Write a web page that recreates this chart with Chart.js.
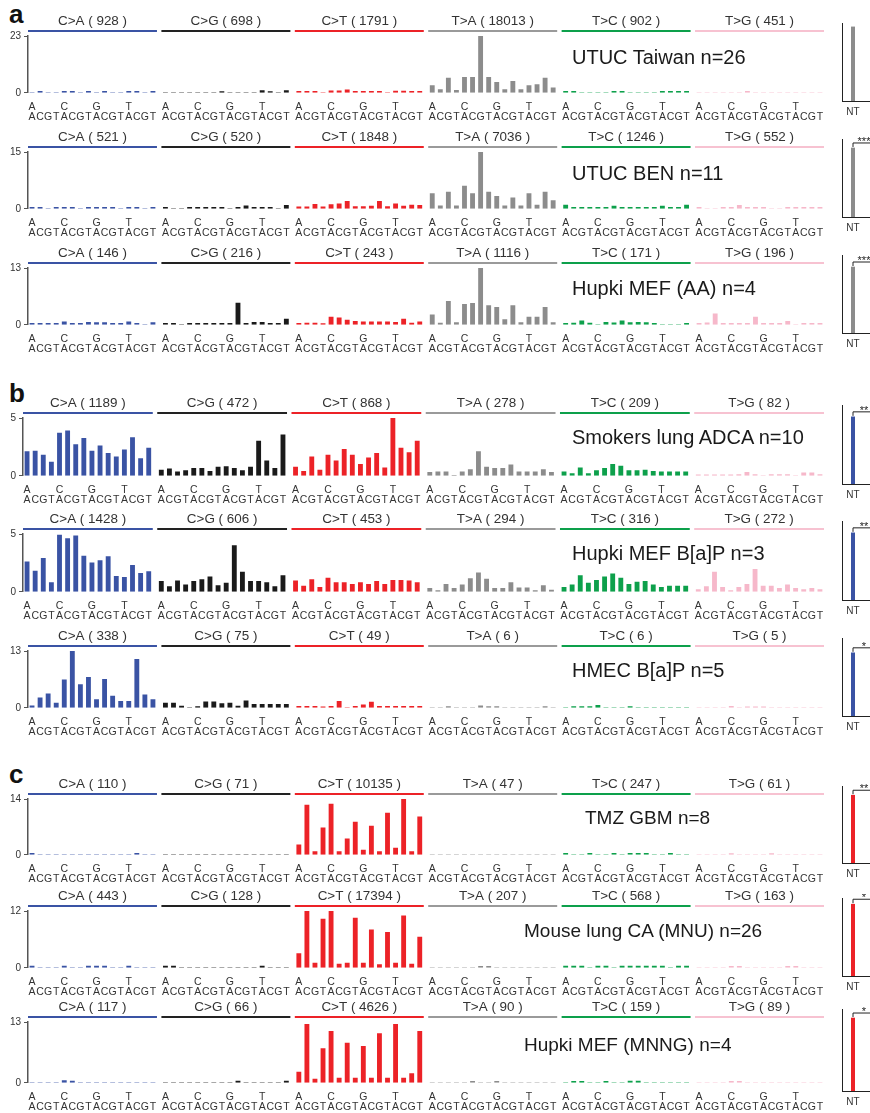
<!DOCTYPE html>
<html lang="en">
<head>
<meta charset="UTF-8">
<title>Trinucleotide mutation spectra</title>
<script src="https://cdn.jsdelivr.net/npm/chart.js"></script>
<style>
  html, body { margin: 0; padding: 0; width: 870px; height: 1113px; overflow: hidden; background: #fff; }
  body { position: relative; font-family: "Liberation Sans", Arial, sans-serif; }
  canvas { position: absolute; }
  .tag { position: absolute; left: 9px; font-weight: bold; font-size: 26px; line-height: 1; color: #111; }
  .name { position: absolute; line-height: 1; color: #1a1a1a; white-space: nowrap; }
</style>
</head>
<body>
<div class="tag" style="top:1px">a</div>
<div class="tag" style="top:380px">b</div>
<div class="tag" style="top:761px">c</div>
<script>
const FONT = '"Liberation Sans", Arial, sans-serif';

// mutation classes and trinucleotide context
const groupNames = ['C>A', 'C>G', 'C>T', 'T>A', 'T>C', 'T>G'];
const fivePrime = ['A', 'C', 'G', 'T'];
const threePrime = ['A', 'C', 'G', 'T'];

// panel titles, counts per class, y axis max
const panelTitles = [
  'UTUC Taiwan n=26', 'UTUC BEN n=11', 'Hupki MEF (AA) n=4',
  'Smokers lung ADCA n=10', 'Hupki MEF B[a]P n=3', 'HMEC B[a]P n=5',
  'TMZ GBM n=8', 'Mouse lung CA (MNU) n=26', 'Hupki MEF (MNNG) n=4'
];
const panelCounts = [
  [928, 698, 1791, 18013, 902, 451],
  [521, 520, 1848, 7036, 1246, 552],
  [146, 216, 243, 1116, 171, 196],
  [1189, 472, 868, 278, 209, 82],
  [1428, 606, 453, 294, 316, 272],
  [338, 75, 49, 6, 6, 5],
  [110, 71, 10135, 47, 247, 61],
  [443, 128, 17394, 207, 568, 163],
  [117, 66, 4626, 90, 159, 89]
];
const panelYMax = [23, 15, 13, 5, 5, 13, 14, 12, 13];

// small side panel: NT share and significance stars
const sideLabels = ['NT', 'T'];
const ntShare = [0.95, 0.885, 0.846, 0.85, 0.85, 0.81, 0.88, 0.92, 0.89];
const tShare = [0.3, 0.3, 0.3, 0.3, 0.3, 0.3, 0.3, 0.3, 0.3];
const ntStars = ['', '***', '***', '**', '**', '*', '**', '*', '*'];

// 96 values per panel (C>A, C>G, C>T, T>A, T>C, T>G; 16 contexts each)
const utucTaiwan = [
  0, 0.6, 0, 0, 0.6, 0.6, 0, 0.6, 0, 0.6, 0, 0, 0.6, 0.6, 0, 0.6,
  0, 0, 0, 0, 0, 0, 0, 0.5, 0, 0, 0, 0, 0.9, 0.5, 0, 0.9,
  0.6, 0.6, 0.6, 0, 0.8, 0.8, 1.2, 0.6, 0.6, 0.6, 0.6, 0, 0.7, 0.7, 0.6, 0.6,
  2.9, 1.3, 6, 1, 6.3, 6.3, 23, 6.3, 4.3, 1.3, 4.7, 1.3, 2.9, 3.3, 6, 2,
  0.6, 0.6, 0, 0, 0, 0, 0.6, 0.6, 0, 0, 0, 0, 0.6, 0.6, 0.6, 0.6,
  0, 0, 0, 0, 0, 0, 0.6, 0, 0, 0, 0, 0, 0, 0, 0, 0
];
const utucBen = [
  0.4, 0.4, 0, 0.4, 0.4, 0.4, 0, 0.4, 0.4, 0.4, 0.4, 0, 0.4, 0.4, 0, 0.4,
  0.4, 0, 0, 0.4, 0.4, 0.4, 0.4, 0.4, 0, 0.4, 0.8, 0.4, 0.4, 0.4, 0, 0.9,
  0.5, 0.5, 1.2, 0.5, 1.1, 1.3, 2.0, 0.6, 0.6, 0.7, 2.0, 0.6, 1.3, 0.7, 1.0, 0.9,
  4, 0.8, 4.4, 0.8, 6, 4, 15.4, 4.4, 3.3, 0.8, 2.9, 0.8, 4, 1, 4.4, 2.2,
  1.0, 0.4, 0.4, 0.4, 0.4, 0.4, 0.7, 0.4, 0.4, 0.4, 0.4, 0.4, 0.7, 0.4, 0.4, 1.0,
  0.4, 0, 0, 0.4, 0.4, 0.9, 0.4, 0.4, 0.4, 0, 0, 0.4, 0.4, 0.4, 0.4, 0.4
];
const hupkiAA = [
  0.35, 0.35, 0.35, 0.35, 0.7, 0.35, 0.35, 0.6, 0.5, 0.5, 0.35, 0.35, 0.7, 0.35, 0, 0.5,
  0.35, 0.35, 0, 0.35, 0.35, 0.35, 0.35, 0.35, 0.35, 5.0, 0.35, 0.6, 0.6, 0.35, 0.35, 1.3,
  0.35, 0.4, 0.4, 0.3, 1.8, 1.6, 1.1, 0.8, 0.7, 0.7, 0.7, 0.7, 0.6, 1.3, 0.4, 0.7,
  2.3, 0.4, 5.4, 0.5, 4.7, 4.9, 13, 4.4, 4, 1.2, 4.4, 0.5, 1.8, 1.8, 4, 0.5,
  0.35, 0.4, 0.9, 0.4, 0, 0.6, 0.45, 0.9, 0.5, 0.6, 0.5, 0.35, 0, 0, 0, 0.35,
  0.35, 0.45, 2.5, 0.35, 0.35, 0.35, 0.35, 1.8, 0.35, 0.35, 0.35, 0.8, 0, 0.35, 0.35, 0.35
];
const smokersLung = [
  2.1, 2.15, 1.8, 1.2, 3.7, 3.9, 2.7, 3.25, 2.15, 2.6, 1.95, 1.65, 2.25, 3.3, 1.5, 2.4,
  0.5, 0.6, 0.35, 0.45, 0.65, 0.65, 0.4, 0.75, 0.8, 0.65, 0.45, 0.75, 3.0, 1.3, 0.65, 3.55,
  0.75, 0.4, 1.65, 0.5, 1.8, 1.3, 2.3, 1.8, 1.0, 1.55, 1.95, 0.7, 5.0, 2.4, 2.0, 3.0,
  0.3, 0.35, 0.35, 0.05, 0.35, 0.55, 2.1, 0.75, 0.65, 0.65, 0.95, 0.35, 0.35, 0.35, 0.55, 0.3,
  0.35, 0.2, 0.7, 0.2, 0.45, 0.65, 1.0, 0.85, 0.45, 0.45, 0.5, 0.4, 0.35, 0.35, 0.35, 0.35,
  0.08, 0.08, 0.08, 0.08, 0.08, 0.1, 0.3, 0.1, 0, 0.1, 0.1, 0.1, 0, 0.25, 0.25, 0.1
];
const hupkiBaP = [
  2.6, 1.8, 2.9, 0.8, 4.9, 4.6, 4.85, 3.1, 2.5, 2.7, 3.05, 1.35, 1.25, 2.3, 1.6, 1.75,
  0.9, 0.45, 0.95, 0.6, 0.9, 1.05, 1.3, 0.55, 0.75, 4.0, 1.7, 0.9, 0.9, 0.8, 0.45, 1.4,
  0.95, 0.5, 1.05, 0.4, 1.2, 0.8, 0.8, 0.65, 0.8, 0.65, 0.9, 0.65, 1.0, 1.0, 0.95, 0.8,
  0.3, 0.1, 0.65, 0.3, 0.6, 1.15, 1.65, 1.1, 0.3, 0.3, 0.8, 0.35, 0.35, 0.1, 0.55, 0.15,
  0.4, 0.6, 1.4, 0.75, 1.0, 1.3, 1.55, 1.2, 0.65, 0.85, 0.9, 0.6, 0.4, 0.5, 0.5, 0.5,
  0.2, 0.45, 1.7, 0.4, 0.1, 0.4, 0.65, 1.95, 0.5, 0.5, 0.3, 0.6, 0.3, 0.2, 0.3, 0.2
];
const hmecBaP = [
  0.45, 2.3, 3.2, 1.1, 6.4, 12.9, 5.3, 7, 1.9, 6.5, 2.7, 1.5, 1.5, 11.1, 3.0, 1.9,
  1.1, 1.1, 0.4, 0, 0.3, 1.35, 1.35, 1.0, 1.1, 0.4, 1.6, 0.8, 0.8, 0.8, 0.8, 0.8,
  0.35, 0.35, 0.35, 0.25, 0.35, 1.5, 0, 0.35, 0.7, 1.3, 0.35, 0.35, 0.35, 0.35, 0.35, 0.35,
  0, 0, 0.3, 0, 0, 0, 0.45, 0.3, 0.3, 0, 0, 0, 0, 0, 0.3, 0,
  0, 0.3, 0.3, 0.3, 0.55, 0, 0, 0, 0.3, 0, 0, 0, 0, 0, 0, 0,
  0, 0, 0, 0, 0.35, 0, 0.25, 0.25, 0.25, 0, 0, 0, 0, 0, 0, 0
];
const tmzGbm = [
  0.4, 0, 0, 0, 0, 0, 0, 0, 0, 0, 0, 0, 0, 0.4, 0, 0,
  0, 0, 0, 0, 0, 0, 0, 0, 0, 0, 0, 0, 0, 0, 0, 0,
  2.5, 12.5, 0.8, 6.8, 12.7, 0.8, 4, 8.2, 1.2, 7.2, 0.8, 10.5, 1.7, 14.5, 0.8, 9.5,
  0, 0, 0, 0, 0, 0, 0, 0, 0, 0, 0, 0, 0, 0, 0, 0,
  0.4, 0, 0, 0.4, 0, 0, 0.4, 0, 0.4, 0.4, 0.4, 0, 0, 0.4, 0, 0,
  0, 0, 0, 0, 0.3, 0, 0, 0, 0, 0.3, 0, 0, 0, 0, 0, 0
];
const mouseLungMnu = [
  0.35, 0, 0, 0, 0.35, 0, 0, 0.35, 0.35, 0.35, 0, 0, 0.35, 0, 0, 0,
  0.35, 0.35, 0, 0, 0, 0, 0, 0, 0, 0, 0, 0, 0.35, 0, 0, 0,
  3, 12, 1, 10.3, 12, 0.8, 1, 10.5, 1, 8, 0.7, 7.5, 1, 11, 0.8, 6.5,
  0, 0, 0, 0, 0, 0, 0.3, 0.3, 0, 0, 0, 0, 0, 0, 0, 0,
  0.35, 0.35, 0.35, 0, 0.35, 0.35, 0, 0.35, 0.35, 0.35, 0.35, 0.35, 0.35, 0, 0.35, 0.35,
  0, 0, 0, 0, 0.3, 0.3, 0, 0, 0, 0, 0, 0.3, 0.3, 0, 0, 0
];
const hupkiMnng = [
  0, 0, 0, 0, 0.5, 0.35, 0, 0, 0, 0, 0, 0, 0, 0, 0, 0,
  0, 0, 0, 0, 0, 0, 0, 0, 0, 0.35, 0, 0, 0, 0, 0, 0.35,
  2.3, 12.5, 0.8, 7.3, 11, 1, 8.5, 1, 7.8, 1, 10.5, 1, 12.5, 1, 2, 11,
  0, 0, 0, 0, 0, 0.3, 0, 0, 0.3, 0, 0, 0, 0, 0, 0, 0,
  0, 0.3, 0.3, 0, 0, 0.3, 0, 0, 0.35, 0.35, 0, 0, 0, 0, 0, 0,
  0, 0, 0, 0, 0.3, 0.3, 0, 0, 0, 0, 0, 0, 0, 0, 0, 0
];
const panelValues = [utucTaiwan, utucBen, hupkiAA, smokersLung, hupkiBaP, hmecBaP, tmzGbm, mouseLungMnu, hupkiMnng];

// styling / layout
const barColors = ['#3a53a4', '#1a1a1a', '#ec2227', '#8c8c8c', '#0da04b', '#f6b8ca'];
const lineColors = ['#3a53a4', '#222222', '#ec2227', '#9a9a9a', '#0da04b', '#f7c2d1'];
const sideColors = ['#8c8c8c', '#8c8c8c', '#8c8c8c', '#3a53a4', '#3a53a4', '#3a53a4', '#ec2227', '#ec2227', '#ec2227'];
const lineY = [31, 147, 263, 413, 529, 646, 794, 906, 1017];
const plotH = [57, 57, 57, 58, 58, 57, 56, 57, 61];
const plotLeft = [28, 28, 28, 23, 23, 28, 28, 28, 28];
const titleX = [572, 572, 572, 572, 572, 572, 585, 524, 524];
const titleY = [57, 173, 288, 437, 553, 670, 817, 930, 1044];
const titleSize = [20, 20, 20, 20, 20, 20, 19, 19, 19];

const GAP = 0.55;
const XMAX = 6 * 16 + 5 * GAP;
const xOf = (g, i) => g * (16 + GAP) + i + 0.5;
const tickValues = [];
for (let g = 0; g < 6; g++) for (let i = 0; i < 16; i++) tickValues.push(xOf(g, i));

Chart.defaults.font.family = FONT;

function headerPlugin(p) {
  return {
    id: 'headers' + p,
    afterDraw(chart) {
      const ctx = chart.ctx, xs = chart.scales.x, top = chart.chartArea.top;
      ctx.save();
      groupNames.forEach((g, gi) => {
        const x0 = xs.getPixelForValue(gi * (16 + GAP));
        const x1 = xs.getPixelForValue(gi * (16 + GAP) + 16);
        ctx.strokeStyle = lineColors[gi];
        ctx.lineWidth = 2;
        ctx.beginPath();
        ctx.moveTo(x0, top - 5);
        ctx.lineTo(x1, top - 5);
        ctx.stroke();
        // header text is a little wide in the original
        ctx.save();
        ctx.translate((x0 + x1) / 2, top - 14);
        ctx.scale(1.12, 1);
        ctx.fillStyle = '#333';
        ctx.font = '12px ' + FONT;
        ctx.textAlign = 'center';
        ctx.textBaseline = 'middle';
        ctx.fillText(g + ' ( ' + panelCounts[p][gi] + ' )', 0, 0);
        ctx.restore();
      });
      ctx.restore();
    }
  };
}

function mainChart(p) {
  const canvas = document.createElement('canvas');
  canvas.width = 835;
  canvas.height = 25 + plotH[p] + 38;
  canvas.style.left = '0px';
  canvas.style.top = (lineY[p] - 20) + 'px';
  document.body.appendChild(canvas);
  const vals = panelValues[p];
  const ymax = panelYMax[p];
  const datasets = groupNames.map((g, gi) => ({
    label: g,
    data: vals.slice(gi * 16, gi * 16 + 16).map((v, i) => ({ x: xOf(gi, i), y: v })),
    backgroundColor: barColors[gi],
    borderWidth: 0,
    barThickness: 4.2,
    grouped: false
  }));
  new Chart(canvas, {
    type: 'bar',
    data: { datasets },
    options: {
      responsive: false,
      animation: false,
      events: [],
      layout: { padding: { top: 25, right: 11, left: 0, bottom: 0 } },
      plugins: { legend: { display: false }, tooltip: { enabled: false } },
      scales: {
        x: {
          type: 'linear', min: 0, max: XMAX, offset: false,
          grid: { display: false, drawTicks: false },
          border: { display: false },
          afterBuildTicks: s => { s.ticks = tickValues.map(v => ({ value: v })); },
          ticks: {
            autoSkip: false, maxRotation: 0, minRotation: 0, padding: 9, color: '#333',
            font: { size: 10.5, lineHeight: 0.96 },
            callback: (v, i) => [i % 4 === 0 ? fivePrime[Math.floor((i % 16) / 4)] : '', threePrime[i % 4]]
          }
        },
        y: {
          min: 0, max: ymax,
          afterBuildTicks: s => { s.ticks = [{ value: 0 }, { value: ymax }]; },
          afterFit: s => { s.width = plotLeft[p]; },
          grid: { display: true, drawOnChartArea: false, drawTicks: true, tickLength: 4, color: '#555' },
          border: { display: true, color: '#555', width: 1.5 },
          ticks: { padding: 3, color: '#333', font: { size: 10 } }
        }
      }
    },
    plugins: [headerPlugin(p)]
  });

  const t = document.createElement('div');
  t.className = 'name';
  t.textContent = panelTitles[p];
  t.style.left = titleX[p] + 'px';
  t.style.fontSize = titleSize[p] + 'px';
  t.style.top = (titleY[p] - titleSize[p] / 2) + 'px';
  document.body.appendChild(t);
}

function sideChart(p) {
  const canvas = document.createElement('canvas');
  canvas.width = 56;
  canvas.height = 4 + plotH[p] + 21 + 22;
  canvas.style.left = '830px';
  canvas.style.top = (lineY[p] - 12) + 'px';
  document.body.appendChild(canvas);
  const stars = ntStars[p];
  new Chart(canvas, {
    type: 'bar',
    data: {
      labels: sideLabels,
      datasets: [{ data: [ntShare[p], tShare[p]], backgroundColor: sideColors[p], barThickness: 3.3, borderWidth: 0 }]
    },
    options: {
      responsive: false,
      animation: false,
      events: [],
      layout: { padding: { top: 4, left: 12, right: 0, bottom: 0 } },
      plugins: { legend: { display: false }, tooltip: { enabled: false } },
      scales: {
        x: {
          grid: { display: false, drawTicks: false },
          border: { display: true, color: '#222', width: 1 },
          ticks: { padding: 5, color: '#333', font: { size: 10 }, maxRotation: 0, autoSkip: false }
        },
        y: {
          min: 0, max: 1,
          afterFit: s => { s.width = 0; },
          grid: { display: false, drawTicks: false },
          border: { display: true, color: '#222', width: 1 },
          ticks: { display: false }
        }
      }
    },
    plugins: [{
      id: 'stars' + p,
      afterDraw(chart) {
        if (!stars) return;
        const ctx = chart.ctx, xs = chart.scales.x, ys = chart.scales.y;
        const x0 = xs.getPixelForValue(0), x1 = xs.getPixelForValue(1);
        const y = ys.getPixelForValue(Math.max(ntShare[p], tShare[p])) - 5;
        ctx.save();
        ctx.strokeStyle = '#222';
        ctx.lineWidth = 1;
        ctx.beginPath();
        ctx.moveTo(x0, y + 4);
        ctx.lineTo(x0, y);
        ctx.lineTo(x1, y);
        ctx.lineTo(x1, y + 4);
        ctx.stroke();
        ctx.fillStyle = '#222';
        ctx.font = '11px ' + FONT;
        ctx.textAlign = 'center';
        ctx.textBaseline = 'middle';
        ctx.fillText(stars, (x0 + x1) / 2, y - 1);
        ctx.restore();
      }
    }]
  });
}

for (let p = 0; p < panelValues.length; p++) {
  mainChart(p);
  sideChart(p);
}
</script>
</body>
</html>
